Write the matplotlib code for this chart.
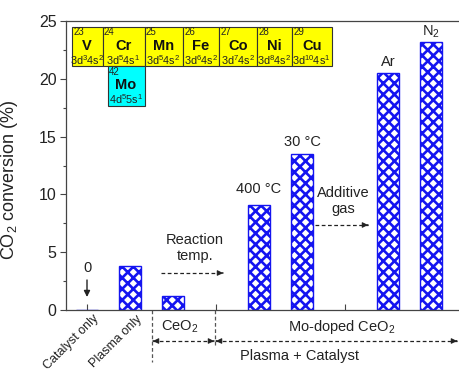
import matplotlib
matplotlib.use("Agg")
import matplotlib.pyplot as plt
import matplotlib.transforms as mtransforms
from matplotlib.patches import Rectangle

plt.rcParams['font.family'] = ['Liberation Sans', 'DejaVu Sans']
plt.rcParams['mathtext.fontset'] = 'custom'
plt.rcParams['mathtext.rm'] = 'Liberation Sans'
plt.rcParams['mathtext.it'] = 'Liberation Sans:italic'
plt.rcParams['mathtext.bf'] = 'Liberation Sans:bold'
plt.rcParams['hatch.linewidth'] = 1.9

# ---- data ----
positions = [1, 2, 3, 5, 6, 8, 9]
conversion = [0.0, 3.8, 1.2, 9.1, 13.5, 20.5, 23.2]
bar_labels = ["0", "", "", "400 °C", "30 °C", "Ar", r"N$_\mathregular{2}$"]
tick_positions = [1, 2, 3, 4, 5, 6, 7, 8, 9]
tick_labels = ["Catalyst only", "Plasma only", "", "", "", "", "", "", ""]

elements = ["V", "Cr", "Mn", "Fe", "Co", "Ni", "Cu"]
atomic_numbers = [23, 24, 25, 26, 27, 28, 29]
configs = [("3d", "3", "4s", "2"), ("3d", "5", "4s", "1"), ("3d", "5", "4s", "2"),
           ("3d", "6", "4s", "2"), ("3d", "7", "4s", "2"), ("3d", "8", "4s", "2"),
           ("3d", "10", "4s", "1")]
mo_element = ("Mo", 42, ("4d", "5", "5s", "1"))

TEXT = '#222222'
BLUE = '#1414f0'

# axes frame in figure pixels
L, R, T, B = 65.5, 459, 21, 310
fig = plt.figure(figsize=(4.59, 3.74), dpi=100)
ax = fig.add_axes([L / 459, (374 - B) / 374, (R - L) / 459, (B - T) / 374])

ax.bar(positions, conversion, width=0.5, color='white', edgecolor=BLUE,
       hatch='xxx', linewidth=1.0, zorder=2)

X_PER_PX = 1 / 43
ax.set_xlim(1 - (87 - L) * X_PER_PX, 1 + (R - 87) * X_PER_PX)
ax.set_ylim(0, 25)
ax.set_yticks([0, 5, 10, 15, 20, 25])
ax.set_yticks([2.5, 7.5, 12.5, 17.5, 22.5], minor=True)
ax.tick_params(axis='y', which='major', direction='out', length=4.5, width=0.8,
               labelsize=11.5, colors='#444444', labelcolor=TEXT, pad=2)
ax.tick_params(axis='y', which='minor', direction='out', length=2.5, width=0.8,
               colors='#444444')
ax.set_xticks(tick_positions)
ax.set_xticklabels(tick_labels, rotation=45, ha='right', va='top',
                   rotation_mode='anchor', fontsize=9, color=TEXT)
ax.tick_params(axis='x', direction='in', length=4, width=0.8, colors='#444444',
               labelcolor=TEXT, pad=2)
shift = mtransforms.ScaledTranslation(6 / 100, 0, fig.dpi_scale_trans)
for lbl in ax.get_xticklabels():
    lbl.set_transform(lbl.get_transform() + shift)
ax.spines['right'].set_visible(False)
for s in ('left', 'bottom', 'top'):
    ax.spines[s].set_color('#444444')
    ax.spines[s].set_linewidth(0.9)

ax.set_ylabel(r'CO$_\mathregular{2}$ conversion (%)', fontsize=13, color=TEXT)
ax.yaxis.set_label_coords(-(L - 20) / (R - L), 0.45)


def px_x(p):
    return 1 + (p - 87) * X_PER_PX


def px_y(p):
    return (B - p) / ((B - T) / 25)


# ---- condition labels above bars ----
label_offsets = {"400 °C": 0.75, "30 °C": 0.4, "Ar": 0.35,
                 r"N$_\mathregular{2}$": 0.15}
for x, v, lab in zip(positions, conversion, bar_labels):
    if lab and lab != "0":
        ax.text(x, v + label_offsets[lab], lab, ha='center', va='bottom',
                fontsize=10.5, color=TEXT)

ax.text(1, px_y(268), "0", ha='center', va='center', fontsize=10.5, color=TEXT)
ax.annotate('', xy=(1, px_y(297)), xytext=(1, px_y(280)),
            arrowprops=dict(arrowstyle='-|>', color=TEXT, lw=1.0,
                            mutation_scale=9, shrinkA=0, shrinkB=0))


def dashed_arrow(x0, y0, x1, y1, both=False, clip=True):
    ax.plot([x0, x1], [y0, y1], ls=(0, (3, 2)), color=TEXT, lw=0.9,
            clip_on=clip, zorder=3)
    dx = (x1 - x0) * 0.001
    ax.annotate('', xy=(x1, y1), xytext=(x1 - dx, y1),
                arrowprops=dict(arrowstyle='-|>', color=TEXT, lw=0.8,
                                mutation_scale=8, shrinkA=0, shrinkB=0),
                annotation_clip=False)
    if both:
        ax.annotate('', xy=(x0, y0), xytext=(x0 + dx, y0),
                    arrowprops=dict(arrowstyle='-|>', color=TEXT, lw=0.8,
                                    mutation_scale=8, shrinkA=0, shrinkB=0),
                    annotation_clip=False)


ax.text(px_x(195), px_y(248), "Reaction\ntemp.", ha='center', va='center',
        fontsize=10.5, color=TEXT, linespacing=1.25)
dashed_arrow(px_x(161), px_y(273), px_x(223), px_y(273))

ax.text(px_x(343), px_y(201), "Additive\ngas", ha='center', va='center',
        fontsize=10.5, color=TEXT, linespacing=1.25)
dashed_arrow(px_x(315), px_y(225), px_x(368), px_y(225))

# ---- group annotations below the axis ----
ax.plot([px_x(152)] * 2, [0, px_y(362)], ls=(0, (3, 2)), color='#555555',
        lw=0.9, clip_on=False)
ax.plot([px_x(215)] * 2, [0, px_y(345)], ls=(0, (3, 2)), color='#555555',
        lw=0.9, clip_on=False)
dashed_arrow(px_x(153), px_y(341), px_x(214), px_y(341), both=True, clip=False)
dashed_arrow(px_x(216), px_y(341), px_x(457), px_y(341), both=True, clip=False)
ax.text(px_x(180), px_y(327), r"CeO$_\mathregular{2}$", ha='center',
        va='center', fontsize=10.5, color=TEXT)
ax.text(px_x(342), px_y(327), r"Mo-doped CeO$_\mathregular{2}$", ha='center',
        va='center', fontsize=10.5, color=TEXT)
ax.text(px_x(299), px_y(356), "Plasma + Catalyst", ha='center', va='center',
        fontsize=10.5, color=TEXT)

# ---- periodic-table inset (element cells) ----
edges = [71.7, 102.5, 144.5, 182.7, 219.3, 256.7, 291.7, 331.7]


def cell(x0, x1, y0, y1, sym, num, cfg, face):
    X0, X1 = px_x(x0), px_x(x1)
    Y0, Y1 = px_y(y1), px_y(y0)
    ax.add_patch(Rectangle((X0, Y0), X1 - X0, Y1 - Y0, facecolor=face,
                           edgecolor='#333333', lw=0.8, zorder=4,
                           clip_on=False))
    ax.text(px_x(x0 + 1.5), px_y(y0 + 0.5), str(num), ha='left', va='top',
            fontsize=7, color=TEXT, zorder=5)
    xc = (X0 + X1) / 2
    ax.text(xc, px_y(y0 + 19), sym, ha='center', va='center', fontsize=10.5,
            fontweight='bold', color='#111111', zorder=5)
    a, b, c, d = cfg
    ax.text(xc, px_y(y0 + 33), rf"{a}$^{{\mathregular{{{b}}}}}${c}$^{{\mathregular{{{d}}}}}$",
            ha='center', va='center', fontsize=7.8, color=TEXT, zorder=5)


for i, (sym, num, cfg) in enumerate(zip(elements, atomic_numbers, configs)):
    cell(edges[i], edges[i + 1], 26.7, 66.3, sym, num, cfg, '#ffff00')

cell(107.7, 144.5, 66.3, 106.0, mo_element[0], mo_element[1], mo_element[2],
     '#00ffff')

fig.savefig("out.png", dpi=100)
